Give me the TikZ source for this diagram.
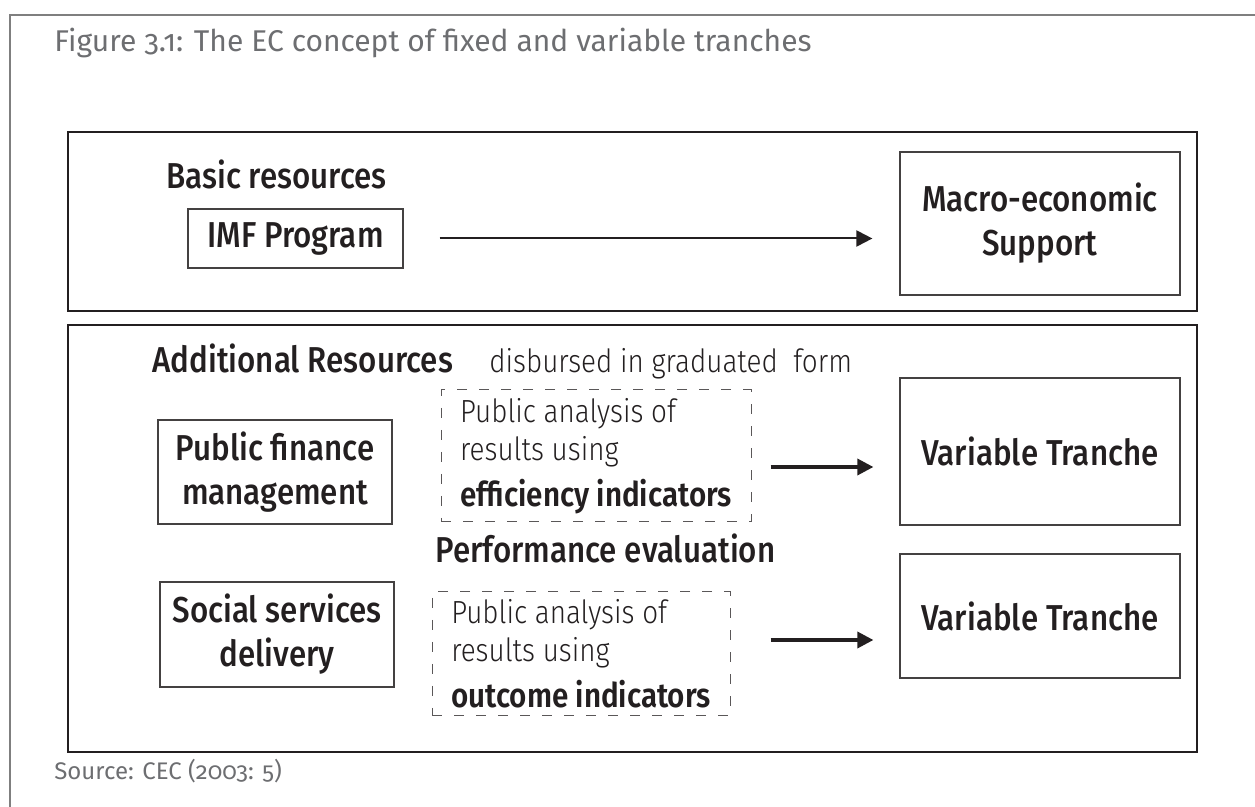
\documentclass[tikz,border=0pt]{standalone}
\usepackage{fontspec}
\setmainfont{Fira Sans}[Numbers=OldStyle,FakeStretch=0.87,BoldFont={Fira Sans Medium}]
\newfontfamily\lightfont{Fira Sans Light}[FakeStretch=0.87]
\newfontfamily\capfont{Fira Sans}[Numbers=OldStyle]
\usetikzlibrary{arrows.meta}
\definecolor{capgray}{HTML}{6D6E71}
\definecolor{linegray}{HTML}{7F7F7F}
\definecolor{ink}{HTML}{231F20}

\begin{document}
\begin{tikzpicture}[x=0.5pt,y=-0.5pt,
	label/.style={font=\fontsize{18}{22}\selectfont\bfseries, text=ink, inner sep=0pt, anchor=base west},
	thin/.style={font=\fontsize{16}{19}\selectfont\lightfont, text=ink, inner sep=0pt, anchor=base west},
	box/.style={draw=ink!85, line width=0.6pt, font=\fontsize{18}{22}\selectfont\bfseries, text=ink, align=center},
	dbox/.style={draw=ink!75, line width=0.5pt, dash pattern=on 5pt off 6pt, font=\fontsize{16}{19}\selectfont\lightfont, text=ink, align=left},
	panel/.style={draw=ink, line width=0.8pt},
	arr/.style={-{Triangle[length=8pt,width=8pt]}, line width=1.7pt, ink}]
	\useasboundingbox (0,0) rectangle (1255,807);
	\draw[linegray, line width=1.3pt] (10,807) -- (10,15) -- (1255,15);
	\node[anchor=base west, inner sep=0pt, text=capgray, font=\fontsize{15}{18}\selectfont\capfont] (title) at (54,52) {Figure 3.1: The EC concept of fixed and variable tranches};

	% fixed tranche
	\draw[panel] (68,132) rectangle (1197,311);
	\node[label] (basic) at (166,189) {Basic resources};
	\node[box, minimum width=107.5pt, minimum height=29.5pt] (imf) at (295.5,238.5) {IMF Program};
	\node[box, minimum width=140pt, minimum height=71.5pt] (macro) at (1040,223.5) {Macro-economic\\Support};
	\draw[arr, line width=1pt, shorten <=18pt, shorten >=13.5pt] (imf.east) -- (imf.east -| macro.west);

	% variable tranches
	\draw[panel] (68,325) rectangle (1197,752);
	\node[label] (addres) at (152,373) {Additional Resources};
	\node[thin] (disb) at (489,373) {disbursed in graduated\ \ form};
	\node[box, minimum width=117pt, minimum height=52pt] (pfm) at (275,472) {Public finance\\management};
	\node[dbox, minimum width=155pt, minimum height=66pt] (pa1) at (596,456) {Public analysis of\\results using\\[4pt]{\fontsize{17}{21}\selectfont\bfseries efficiency indicators}};
	\node[box, minimum width=140pt, minimum height=73.5pt] (vt1) at (1040,451.5) {Variable Tranche};
	\draw[arr, shorten <=9.5pt, shorten >=13pt] ([yshift=-5.5pt]pa1.east) -- ([yshift=-5.5pt]pa1.east -| vt1.west);

	\node[label] (perf) at (435,563) {Performance evaluation};
	\node[box, minimum width=117pt, minimum height=52.5pt] (social) at (277,634.5) {Social services\\delivery};
	\node[dbox, minimum width=149pt, minimum height=62pt] (pa2) at (581,654) {Public analysis of\\results using\\[4pt]{\fontsize{17}{21}\selectfont\bfseries outcome indicators}};
	\node[box, minimum width=140pt, minimum height=62pt] (vt2) at (1040,616) {Variable Tranche};
	\draw[arr, shorten <=20pt, shorten >=13pt] ([yshift=7pt]pa2.east) -- ([yshift=7pt]pa2.east -| vt2.west);

	\node[anchor=base west, inner sep=0pt, text=capgray, font=\fontsize{12}{14}\selectfont\capfont] (source) at (54,780) {Source: CEC (2003: 5)};
\end{tikzpicture}
\end{document}
